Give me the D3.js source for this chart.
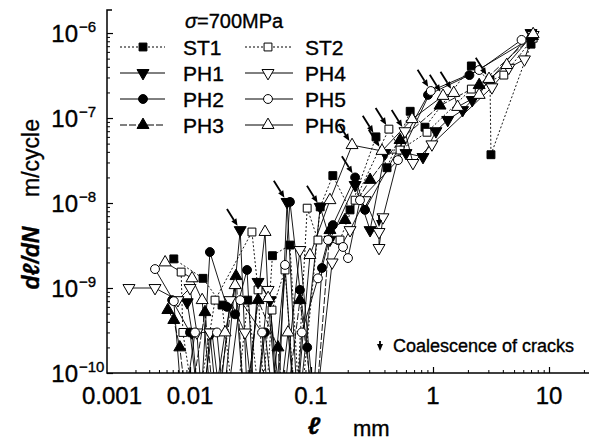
<!DOCTYPE html>
<html><head><meta charset="utf-8">
<script src="https://cdn.jsdelivr.net/npm/d3@7"></script>
<style>body{margin:0;background:#fff}svg{display:block;font-family:"Liberation Sans",Arial,sans-serif}text{stroke:#000;stroke-width:0.35px}</style>
</head><body><svg id="c" width="600" height="441"></svg>
<script>
// ---- data ----
const stressLabel = "=700MPa";
const xTickValues = [0.001, 0.01, 0.1, 1, 10];
const xTickLabels = ["0.001", "0.01", "0.1", "1", "10"];
const yTickExps = [-10, -9, -8, -7, -6];
const seriesNames = ["ST1", "ST2", "PH1", "PH4", "PH2", "PH5", "PH3", "PH6"];

// crack length l (mm) and growth rate dl/dN (m/cycle); 3e-11 = no growth (below axis)
const ST1_l = [0.0062,0.0128,0.0184,0.0236,0.030,0.039,0.048,0.067,0.081,0.119,0.151,0.209,0.341,0.42,0.65,0.86,2.14,3.1,3.16,7.0];
const ST1_r = [2.2e-9,1.3e-9,6.3e-10,3e-11,7.2e-10,3e-11,2.4e-9,3.2e-9,3e-11,9e-9,2.1e-8,8.3e-9,6e-8,2.6e-8,1.2e-7,7.8e-8,4.1e-7,2.8e-7,3.7e-8,7.4e-7];
const ST2_l = [0.0077,0.0081,0.0112,0.0161,0.0325,0.0365,0.0417,0.0476,0.061,0.075,0.093,0.114,0.173,0.23,0.435,0.537,0.893,2.14,4.08,7.3];
const ST2_r = [1.54e-9,3e-10,3e-11,7.2e-10,4.56e-9,9.5e-10,3e-11,5.5e-10,1.63e-9,3e-11,8.7e-9,3.67e-9,3.67e-9,1.08e-8,7.4e-8,4.2e-8,6.8e-8,2.19e-7,3.2e-7,8.7e-7];
const PH1_l = [0.0092,0.0104,0.0121,0.0152,0.0184,0.026,0.0302,0.0365,0.046,0.0533,0.0634,0.078,0.119,0.143,0.23,0.305,0.404,0.601,0.828,1.06,1.34,1.80,2.18,7.0];
const PH1_r = [6.8e-10,3e-10,3e-11,3e-10,3e-11,4.8e-9,3e-11,1.18e-9,7.2e-10,3e-11,1.03e-8,3e-11,9e-9,3.7e-9,1.63e-8,4.8e-9,3.87e-8,3.87e-8,3.48e-8,7.0e-8,9.5e-8,1.24e-7,1.63e-7,1e-6];
const PH4_l = [0.00165,0.00356,0.0070,0.010,0.0114,0.0128,0.0146,0.017,0.0214,0.0285,0.0344,0.0442,0.0575,0.081,0.108,0.149,0.209,0.277,0.361,0.361,0.389,0.589,0.685,0.98,3.22,4.5,6.14,7.3];
const PH4_r = [1e-9,1e-9,7.2e-10,1e-9,3e-10,3e-11,3e-10,3e-11,7.2e-10,3e-10,3e-11,9.5e-10,3e-11,2.8e-9,3e-11,2.0e-9,4.8e-9,1.08e-8,4.56e-9,2.96e-9,6.8e-9,7e-8,2.96e-8,4.9e-8,2.3e-7,3.9e-7,4.9e-7,9.5e-7];
const PH2_l = [0.0059,0.010,0.0121,0.0146,0.0202,0.0236,0.0296,0.0344,0.0417,0.0504,0.067,0.081,0.093,0.102,0.123,0.151,0.23,0.277,0.91,2.06,7.0];
const PH2_r = [7.2e-10,3e-10,3e-11,2.65e-9,6.0e-10,4.9e-10,1.63e-9,3e-11,3e-10,3e-11,1.03e-8,9.5e-10,2.0e-10,3e-11,1.72e-9,5.5e-9,2.0e-8,8.3e-9,1.87e-7,3.2e-7,8.7e-7];
const PH5_l = [0.00356,0.0062,0.0081,0.011,0.0167,0.0195,0.026,0.0394,0.046,0.061,0.074,0.084,0.114,0.138,0.183,0.201,0.252,0.516,0.96,2.5,5.8];
const PH5_r = [1.67e-9,7.0e-10,3e-11,3e-10,3e-10,3e-11,7.2e-10,3e-10,3e-11,1.87e-9,3e-11,3.0e-10,1.3e-9,3.67e-9,3.04e-9,2.25e-9,1.08e-8,3.2e-8,2.08e-7,3.67e-7,8.3e-7];
const PH3_l = [0.0052,0.0062,0.0074,0.0094,0.0133,0.0161,0.024,0.0285,0.0365,0.0533,0.061,0.081,0.108,0.143,0.19,0.305,0.537,1.15,2.5,7.2];
const PH3_r = [5.5e-10,4.2e-10,2e-10,3e-11,5.2e-10,3e-11,1.38e-9,3e-11,7.2e-10,2e-10,3e-11,7.2e-10,3e-11,4.8e-9,6.3e-9,1.87e-8,5.5e-8,1.4e-7,2.44e-7,9.2e-7];
const PH6_l = [0.0048,0.0104,0.0126,0.0152,0.0195,0.0236,0.0285,0.0417,0.0442,0.0533,0.0646,0.075,0.098,0.143,0.217,0.382,0.673,1.22,1.51,1.63,2.5,3.04,4.32,7.3];
const PH6_r = [2.0e-9,1.3e-9,7.2e-10,3e-11,3e-10,1.08e-9,3e-11,4.56e-9,7.6e-10,3e-11,3e-10,3e-11,2.44e-9,1.08e-8,4.8e-8,4.1e-8,9.7e-8,1.82e-7,1.97e-7,1.35e-7,1.87e-7,2.88e-7,4.2e-7,9.7e-7];

// coalescence arrows (targets)
const arrowL = [0.026,0.0634,0.119,0.23,0.217,0.341,0.382,0.435,0.589,0.96,1.22,1.51,3.04];
const arrowR = [4.8e-9,1.03e-8,9e-9,2.0e-8,4.8e-8,6e-8,4.1e-8,7.4e-8,7e-8,2.08e-7,1.82e-7,1.97e-7,2.88e-7];
const vArrowL = [0.361];
const vArrowR = [4.56e-9];

// ---- drawing ----
const svg = d3.select("#c");
const X0 = 107, X1 = 589, Y0 = 373, Ytop = 10;
const xs = d3.scaleLinear().domain([-3, -2, -1, 0, 1]).range([112, 190, 311, 433, 549]);
const x = v => xs(Math.log10(v));
const y = d3.scaleLog().domain([1e-10, Math.pow(10, -5.729)]).range([Y0, Ytop]);

const cols = {
  ST1:{l:ST1_l,r:ST1_r,sym:"sq",fill:true,dash:"2,2"},
  ST2:{l:ST2_l,r:ST2_r,sym:"sq",fill:false,dash:"2,2"},
  PH1:{l:PH1_l,r:PH1_r,sym:"dn",fill:true,dash:null},
  PH4:{l:PH4_l,r:PH4_r,sym:"dn",fill:false,dash:null},
  PH2:{l:PH2_l,r:PH2_r,sym:"ci",fill:true,dash:null},
  PH5:{l:PH5_l,r:PH5_r,sym:"ci",fill:false,dash:null},
  PH3:{l:PH3_l,r:PH3_r,sym:"up",fill:true,dash:"7,2"},
  PH6:{l:PH6_l,r:PH6_r,sym:"up",fill:false,dash:null}
};

svg.append("defs").append("clipPath").attr("id","clip")
  .append("rect").attr("x",X0).attr("y",0).attr("width",X1-X0).attr("height",Y0);

function symPath(sym){
  if (sym==="sq") return d3.symbol(d3.symbolSquare, 62)();
  if (sym==="ci") return d3.symbol(d3.symbolCircle, 62)();
  return d3.symbol(d3.symbolTriangle, 62)();
}
function drawMarker(g, sym, fill, px, py){
  g.append("path").attr("d", symPath(sym))
    .attr("transform", `translate(${px},${py})` + (sym==="dn" ? " rotate(180)" : ""))
    .attr("fill", fill ? "#000" : "#fff").attr("stroke","#000").attr("stroke-width",1);
}

const plot = svg.append("g").attr("clip-path","url(#clip)");
const line = d3.line().x(d=>x(d[0])).y(d=>y(d[1]));
seriesNames.forEach(n=>{
  const s = cols[n];
  const pts = s.l.map((v,i)=>[v, s.r[i]]);
  plot.append("path").attr("d", line(pts)).attr("fill","none").attr("stroke","#000")
    .attr("stroke-width",0.9).attr("stroke-dasharray", s.dash);
});
seriesNames.forEach(n=>{
  const s = cols[n];
  s.l.forEach((v,i)=>{
    if (s.r[i] >= 1e-10) drawMarker(plot, s.sym, s.fill, x(v), y(s.r[i]));
  });
});

// arrows
function arrow(g, tx, ty, ang, len){
  const dx = Math.cos(ang), dy = Math.sin(ang);
  const tipx = tx - 5*dx, tipy = ty - 5*dy;
  const sx = tipx - len*dx, sy = tipy - len*dy;
  const bx = tipx - 7*dx, by = tipy - 7*dy;
  g.append("line").attr("x1",sx).attr("y1",sy).attr("x2",bx).attr("y2",by)
    .attr("stroke","#000").attr("stroke-width",1.8);
  g.append("path").attr("d",`M${tipx},${tipy}L${bx+3*dy},${by-3*dx}L${bx-3*dy},${by+3*dx}Z`).attr("fill","#000");
}
arrowL.forEach((v,i)=>arrow(svg, x(v), y(arrowR[i]), 58*Math.PI/180, 20));
vArrowL.forEach((v,i)=>arrow(svg, x(v), y(vArrowR[i]), Math.PI/2, 12));

// axes
const yMinor = [];
for (let e=-10; e<=-6; e++) for (let k=1; k<=9; k++){ const v=k*Math.pow(10,e); if (y(v)>=Ytop && v>=1e-10) yMinor.push(v); }
svg.append("g").attr("transform",`translate(${X0},0)`)
  .call(d3.axisLeft(y).tickValues(yMinor.filter(v=>!yTickExps.map(e=>Math.pow(10,e)).some(m=>Math.abs(m-v)/v<1e-6))).tickSize(-3).tickFormat(""))
  .call(g=>g.select(".domain").remove()).selectAll("line").attr("stroke-width",1);
svg.append("g").attr("transform",`translate(${X0},0)`)
  .call(d3.axisLeft(y).tickValues(yTickExps.map(e=>Math.pow(10,e))).tickSize(-6).tickFormat(""))
  .call(g=>g.select(".domain").remove()).selectAll("line").attr("stroke-width",1.2);

const xMinor = [];
for (let e=-3; e<=1; e++) for (let k=2; k<=9; k++){ const lv=Math.log10(k*Math.pow(10,e)); const p=xs(lv); if (p>X0 && p<X1) xMinor.push(lv); }
svg.append("g").attr("transform",`translate(0,${Y0})`)
  .call(d3.axisBottom(xs).tickValues(xMinor).tickSize(-3).tickFormat(""))
  .call(g=>g.select(".domain").remove()).selectAll("line").attr("stroke-width",1);
svg.append("g").attr("transform",`translate(0,${Y0})`)
  .call(d3.axisBottom(xs).tickValues(xTickValues.slice(1).map(v=>Math.log10(v))).tickSize(-6).tickFormat(""))
  .call(g=>g.select(".domain").remove()).selectAll("line").attr("stroke-width",1.2);

svg.append("path").attr("d",`M${X0+5},${Ytop}H${X0}V${Y0}H${X1}`).attr("fill","none").attr("stroke","#000").attr("stroke-width",1.5);

// tick labels
xTickValues.forEach((v,i)=>{
  svg.append("text").attr("x",x(v)).attr("y",404).attr("text-anchor","middle")
    .attr("font-size",24).text(xTickLabels[i]);
});
yTickExps.forEach(e=>{
  const py = y(Math.pow(10,e));
  svg.append("text").attr("x",78).attr("y",py+9).attr("text-anchor","end").attr("font-size",24).text("10");
  svg.append("text").attr("x",79).attr("y",py-1).attr("font-size",15).text("\u2212"+Math.abs(e));
});

// axis titles
svg.append("text").attr("transform","translate(39,258) rotate(-90)").attr("text-anchor","middle")
  .attr("font-size",23).attr("font-style","italic").attr("font-weight","bold").text("d\u2113/dN");
svg.append("text").attr("transform","translate(39,158) rotate(-90)").attr("text-anchor","middle")
  .attr("font-size",23).text("m/cycle");
svg.append("text").attr("x",314).attr("y",434).attr("text-anchor","middle").attr("font-size",24)
  .attr("font-style","italic").attr("font-weight","bold").text("\u2113");
svg.append("text").attr("x",353).attr("y",436).attr("font-size",22).text("mm");

// legend
const st = svg.append("text").attr("x",185).attr("y",28).attr("font-size",20);
st.append("tspan").attr("font-style","italic").text("\u03c3");
st.append("tspan").text(stressLabel);
const legRows = [["ST1","ST2"],["PH1","PH4"],["PH2","PH5"],["PH3","PH6"]];
legRows.forEach((row,ri)=>{
  const ly = 47 + ri*26;
  [[120,165,143,183],[245,293,268,305]].forEach((c,ci)=>{
    const s = cols[row[ci]];
    svg.append("line").attr("x1",c[0]).attr("x2",c[1]).attr("y1",ly).attr("y2",ly)
      .attr("stroke","#000").attr("stroke-width",1).attr("stroke-dasharray", s.dash);
    drawMarker(svg, s.sym, s.fill, c[2], ly);
    svg.append("text").attr("x",c[3]).attr("y",ly+8).attr("font-size",21).text(row[ci]);
  });
});

// coalescence note
arrow(svg, 380, 356, Math.PI/2, 10);
svg.append("text").attr("x",393).attr("y",352).attr("font-size",18).text("Coalescence of cracks");
</script></body></html>
